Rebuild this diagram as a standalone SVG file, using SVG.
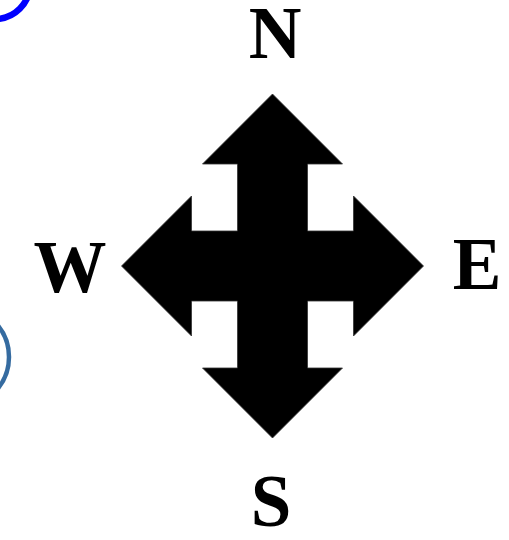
<svg xmlns="http://www.w3.org/2000/svg" width="509" height="540" viewBox="0 0 509 540">
  <style>
    .lbl { font-family: "Liberation Serif", "Times New Roman", serif; font-weight: bold; font-size: 73px; fill: #000; text-anchor: middle; }
  </style>
  <rect width="509" height="540" fill="#ffffff"/>
  <g id="circle-blue">
    <circle cx="-5" cy="-16" r="35" fill="none" stroke="#0000ff" stroke-width="6.5"/>
  </g>
  <g id="circle-steel">
    <circle cx="-41" cy="357" r="50" fill="none" stroke="#356ba0" stroke-width="4.5"/>
  </g>
  <g id="compass-arrow">
    <polygon points="272.5,94 342.5,164 307.5,164 307.5,231 353.5,231 353.5,196 423.5,266 353.5,336 353.5,301 307.5,301 307.5,368 342.5,368 272.5,438 202.5,368 237.5,368 237.5,301 191.5,301 191.5,336 121.5,266 191.5,196 191.5,231 237.5,231 237.5,164 202.5,164" fill="#000000" stroke="#333333" stroke-width="0.8" stroke-linejoin="miter"/>
  </g>
  <g id="label-n"><text class="lbl" x="275" y="58">N</text></g>
  <g id="label-w"><text class="lbl" x="70" y="292">W</text></g>
  <g id="label-e"><text class="lbl" x="477" y="289">E</text></g>
  <g id="label-s"><text class="lbl" x="271" y="526">S</text></g>
</svg>
